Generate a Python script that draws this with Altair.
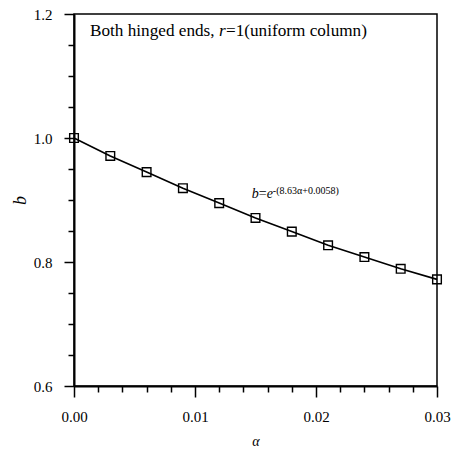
import altair as alt
import pandas as pd

# data
alpha = [0.000, 0.003, 0.006, 0.009, 0.012, 0.015, 0.018, 0.021, 0.024, 0.027, 0.030]
b_vals = [1.000, 0.971, 0.945, 0.919, 0.895, 0.871, 0.849, 0.827, 0.808, 0.789, 0.772]

x_ticks = [round(i * 0.002, 3) for i in range(16)]
y_ticks = [round(0.6 + i * 0.05, 2) for i in range(13)]

title_parts = ["Both hinged ends, ", "r", "=1(uniform column)"]
title_styles = ["normal", "italic", "normal"]
title_dx = [0, 129, 136]
title_pos = (0.00132, 1.1645)

eq_parts = ["b", "=", "e"]
eq_styles = ["italic", "normal", "italic"]
eq_dx = [0, 7, 15]
eq_sup = "-(8.63\u03b1+0.0058)"
eq_pos = (0.0147, 0.903)

FONT = "Liberation Serif"

df = pd.DataFrame({"alpha": alpha, "b": b_vals})

x_major = "abs(datum.value*100 - round(datum.value*100)) < 0.001"
y_major = "abs(datum.value*5 - round(datum.value*5)) < 0.001"

x_axis = alt.Axis(
    values=x_ticks,
    labelExpr=f"{x_major} ? format(datum.value, '.2f') : ''",
    labelOverlap=False,
    tickSize={"condition": {"test": x_major, "value": 11}, "value": 6},
    tickWidth=1.5,
    tickColor="black",
    domainColor="black",
    domainWidth=2,
    grid=False,
    labelFont=FONT,
    labelFontSize=15,
    labelColor="black",
    labelPadding=12,
    labelFlush=False,
    title="\u03b1",
    titleFont=FONT,
    titleFontSize=14,
    titleFontStyle="italic",
    titleFontWeight="normal",
    titleColor="black",
    titlePadding=10,
)
y_axis = alt.Axis(
    values=y_ticks,
    labelExpr=f"{y_major} ? format(datum.value, '.1f') : ''",
    labelOverlap=False,
    tickSize={"condition": {"test": y_major, "value": 10}, "value": 6},
    tickWidth=1.5,
    tickColor="black",
    domainColor="black",
    domainWidth=2,
    grid=False,
    labelFont=FONT,
    labelFontSize=15,
    labelColor="black",
    labelPadding=12,
    labelFlush=False,
    title="b",
    titleFont=FONT,
    titleFontSize=18,
    titleFontStyle="italic",
    titleFontWeight="normal",
    titleColor="black",
    titlePadding=4,
)
x_scale = alt.Scale(domain=[0, 0.03], nice=False, zero=False)
y_scale = alt.Scale(domain=[0.6, 1.2], nice=False, zero=False)


def xe():
    return alt.X("alpha:Q", scale=x_scale, axis=x_axis)


def ye():
    return alt.Y("b:Q", scale=y_scale, axis=y_axis)


base = alt.Chart(df)
line = base.mark_line(color="black", strokeWidth=1.6).encode(x=xe(), y=ye())
pts = base.mark_point(shape="square", filled=False, color="black", size=75, strokeWidth=1.4, opacity=1).encode(
    x=xe(), y=ye()
)

layers = [line, pts]

for txt, sty, dx in zip(title_parts, title_styles, title_dx):
    tdf = pd.DataFrame({"alpha": [title_pos[0]], "b": [title_pos[1]], "t": [txt]})
    layers.append(
        alt.Chart(tdf)
        .mark_text(align="left", baseline="alphabetic", font=FONT, fontSize=17.2, fontStyle=sty, color="black", dx=dx)
        .encode(x=xe(), y=ye(), text="t:N")
    )

for txt, sty, dx in zip(eq_parts, eq_styles, eq_dx):
    tdf = pd.DataFrame({"alpha": [eq_pos[0]], "b": [eq_pos[1]], "t": [txt]})
    layers.append(
        alt.Chart(tdf)
        .mark_text(align="left", baseline="alphabetic", font=FONT, fontSize=14, fontStyle=sty, color="black", dx=dx)
        .encode(x=xe(), y=ye(), text="t:N")
    )

sdf = pd.DataFrame({"alpha": [eq_pos[0]], "b": [eq_pos[1]], "t": [eq_sup]})
layers.append(
    alt.Chart(sdf)
    .mark_text(align="left", baseline="alphabetic", font=FONT, fontSize=10, color="black", dx=21, dy=-4)
    .encode(x=xe(), y=ye(), text="t:N")
)

chart = (
    alt.layer(*layers)
    .properties(
        width=363,
        height=372,
        autosize=alt.AutoSizeParams(type="none"),
        padding={"left": 66, "top": 6, "right": 15, "bottom": 62},
        background="white",
    )
    .configure_view(stroke="black", strokeWidth=1.5)
    .configure_axis(labelOverlap=False)
)

chart.save("out.html", embed_options={"renderer": "svg", "actions": False})
